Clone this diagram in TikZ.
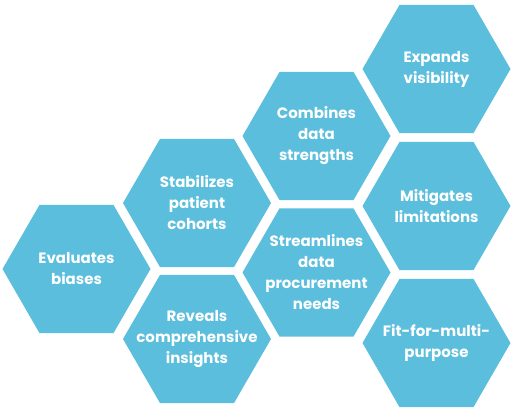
\documentclass[tikz,border=0pt]{standalone}
\usepackage{fontspec}
\setmainfont{Poppins}
\definecolor{hexblue}{HTML}{5ABEDC}
\tikzset{
  hexfill/.style={fill=hexblue, draw=none},
  hextext/.style={inner sep=0pt, outer sep=0pt, text=white, align=center,
    font=\bfseries\fontsize{15}{21}\selectfont}
}
\newcommand{\hexcell}[3]{%
  \fill[hexfill] (#2) ++(-74,0) -- ++(37,-64.1) -- ++(74,0) -- ++(37,64.1)
    -- ++(-37,64.1) -- ++(-74,0) -- cycle;
  \node[hextext] (#1) at (#2) {#3};}
\begin{document}
\begin{tikzpicture}[x=1pt,y=-1pt]
\useasboundingbox (0,0) rectangle (514,411);
\hexcell{eval}{76.5,269}{Evaluates\\biases}
\hexcell{stab}{197,203}{Stabilizes\\patient\\cohorts}
\hexcell{reve}{197,339}{Reveals\\comprehensive\\insights}
\hexcell{comb}{316.5,136}{Combines\\data\\strengths}
\hexcell{stre}{316.5,272.5}{Streamlines\\data\\procurement\\needs}
\hexcell{expa}{436.5,69}{Expands\\visibility}
\hexcell{miti}{436.5,206}{Mitigates\\limitations}
\hexcell{fitf}{436.5,343}{Fit-for-multi-\\purpose}
\end{tikzpicture}
\end{document}
